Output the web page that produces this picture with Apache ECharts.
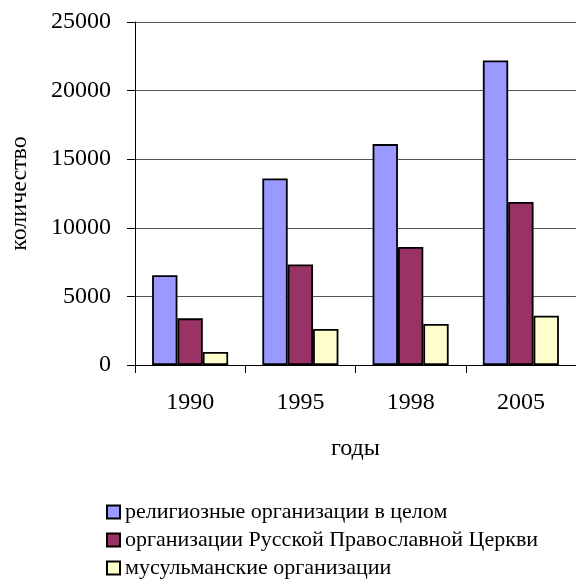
<!DOCTYPE html>
<html>
<head>
<meta charset="utf-8">
<script src="https://cdn.jsdelivr.net/npm/echarts@6/dist/echarts.min.js"></script>
<style>
  html, body { margin: 0; padding: 0; background: #ffffff; }
  #main { width: 576px; height: 580px; }
</style>
</head>
<body>
<div id="main"></div>
<script>
// data
const years = ['1990', '1995', '1998', '2005'];
const religiousTotal = [6550, 13600, 16100, 22200];
const russianOrthodox = [3400, 7330, 8600, 11880];
const muslim = [950, 2620, 2990, 3590];
const seriesNames = [
    'религиозные организации в целом',
    'организации Русской Православной Церкви',
    'мусульманские организации'
];

const font = '"Liberation Serif", "Times New Roman", serif';
const chart = echarts.init(document.getElementById('main'));

const barStyle = (color) => ({
    color: color,
    borderColor: '#000000',
    borderWidth: 1.8
});

const option = {
    backgroundColor: '#ffffff',
    animation: false,
    textStyle: { fontFamily: font, color: '#000000' },
    grid: {
        left: 134,
        right: 0,
        top: 22,
        bottom: 215
    },
    legend: {
        orient: 'vertical',
        left: 106,
        top: 501,
        padding: 0,
        icon: 'rect',
        itemWidth: 13,
        itemHeight: 13,
        itemGap: 6,
        data: seriesNames,
        textStyle: { fontFamily: font, fontSize: 22, lineHeight: 22, color: '#000000' }
    },
    xAxis: {
        type: 'category',
        data: years,
        name: 'годы',
        nameLocation: 'middle',
        nameGap: 72,
        nameTextStyle: { fontFamily: font, fontSize: 24, color: '#000000' },
        axisLine: { lineStyle: { color: '#000000', width: 1 } },
        axisTick: { show: true, inside: false, length: 8, lineStyle: { color: '#000000' } },
        axisLabel: { fontFamily: font, fontSize: 24, color: '#000000', margin: 26 },
        splitLine: { show: false }
    },
    yAxis: {
        type: 'value',
        min: 0,
        max: 25000,
        interval: 5000,
        name: 'количество',
        nameLocation: 'middle',
        nameRotate: 90,
        nameGap: 103,
        nameTextStyle: { fontFamily: font, fontSize: 24, color: '#000000' },
        axisLine: { show: true, lineStyle: { color: '#000000', width: 1 } },
        axisTick: { show: true, length: 8, lineStyle: { color: '#000000' } },
        axisLabel: { fontFamily: font, fontSize: 24, color: '#000000', margin: 24, formatter: (v) => String(v) },
        splitLine: { show: true, lineStyle: { color: '#555555', width: 1 } }
    },
    series: [
        {
            name: seriesNames[0],
            type: 'bar',
            data: religiousTotal,
            barGap: '0%',
            barCategoryGap: '31%',
            itemStyle: barStyle('#9999ff')
        },
        {
            name: seriesNames[1],
            type: 'bar',
            data: russianOrthodox,
            itemStyle: barStyle('#993366')
        },
        {
            name: seriesNames[2],
            type: 'bar',
            data: muslim,
            itemStyle: barStyle('#ffffcc')
        }
    ]
};

chart.setOption(option);
</script>
</body>
</html>
